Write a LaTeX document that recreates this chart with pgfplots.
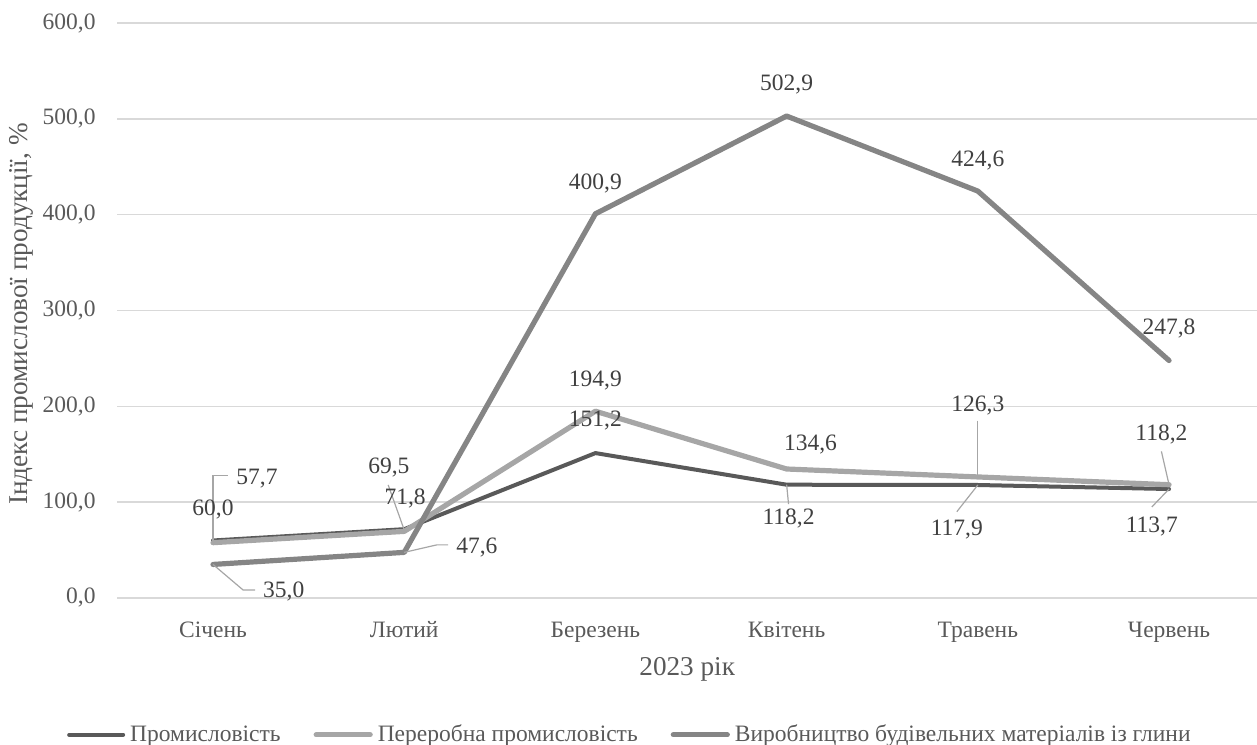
\documentclass[border=0pt]{standalone}
\usepackage{pgfplots}
\pgfplotsset{compat=1.18}
\usepackage{fontspec}
\setmainfont{Liberation Serif}
\definecolor{cInd}{HTML}{595959}
\definecolor{cMan}{HTML}{A6A6A6}
\definecolor{cClay}{HTML}{858585}
\definecolor{cGrid}{HTML}{D9D9D9}
\definecolor{cTxt}{HTML}{404040}
\definecolor{cTick}{HTML}{595959}
\definecolor{cLead}{HTML}{A6A6A6}
\begin{document}
\begin{tikzpicture}[font=\fontsize{11.75}{14}\selectfont,
  lbl/.style={text=cTxt, inner sep=0pt, anchor=center},
  lead/.style={draw=cLead, line width=0.6pt}]
\begin{axis}[
  scale only axis,
  width=569.8pt, height=287.5pt,
  xmin=-0.5, xmax=5.46, ymin=0, ymax=600,
  ytick={0,100,200,300,400,500,600},
  xtick={0,1,2,3,4,5},
  xticklabels={Січень,Лютий,Березень,Квітень,Травень,Червень},
  ymajorgrids,
  grid style={cGrid, line width=0.75pt},
  axis line style={draw=none},
  major tick length=0pt,
  clip=false,
  /pgf/number format/assume math mode=true,
  yticklabel style={/pgf/number format/.cd, fixed, fixed zerofill, precision=1, use comma, /tikz/.cd,
    text=cTick, anchor=east, inner sep=0pt, xshift=-10.7pt},
  xticklabel style={text=cTick, anchor=base, inner sep=0pt, yshift=-20pt},
  legend columns=3,
  legend style={draw=none, fill=none, at={(axis description cs:0.451,-0.238)}, anchor=center,
    text=cTick, font=\fontsize{11.75}{14}\selectfont,
    nodes={inner sep=2.5pt},
    /tikz/every even column/.append style={column sep=14pt}},
  legend image code/.code={\draw[#1, line cap=round] (0pt,0pt) -- (27pt,0pt);},
]
\addplot[cInd, line width=2pt, line cap=round, line join=round] coordinates {(0,60.0)(1,71.8)(2,151.2)(3,118.2)(4,117.9)(5,113.7)};
\addlegendentry{Промисловість}
\addplot[cMan, line width=2.6pt, line cap=round, line join=round] coordinates {(0,57.7)(1,69.5)(2,194.9)(3,134.6)(4,126.3)(5,118.2)};
\addlegendentry{Переробна промисловість}
\addplot[cClay, line width=2.6pt, line cap=round, line join=round] coordinates {(0,35.0)(1,47.6)(2,400.9)(3,502.9)(4,424.6)(5,247.8)};
\addlegendentry{Виробництво будівельних матеріалів із глини}

% leader lines
\draw[lead] (axis cs:0,57.7) -- (axis cs:0,128) -- (axis cs:0.079,128);
\draw[lead] (axis cs:0.916,118) -- (axis cs:1,71);
\draw[lead] (axis cs:1,47.6) -- (axis cs:1.17,55.4) -- (axis cs:1.23,55.4);
\draw[lead] (axis cs:0,35) -- (axis cs:0.157,8.4) -- (axis cs:0.22,8.4);
\draw[lead] (axis cs:3,118.2) -- (axis cs:3.01,98);
\draw[lead] (axis cs:4,185) -- (axis cs:4,126.3);
\draw[lead] (axis cs:3.89,90) -- (axis cs:4,117.9);
\draw[lead] (axis cs:4.96,153) -- (axis cs:5,118.2);
\draw[lead] (axis cs:4.91,95) -- (axis cs:5,113.7);

% data labels
\node[lbl] at (axis cs:0,92) {60,0};
\node[lbl] at (axis cs:0.23,125) {57,7};
\node[lbl] at (axis cs:0.92,136) {69,5};
\node[lbl] at (axis cs:1.005,104) {71,8};
\node[lbl] at (axis cs:1.38,53) {47,6};
\node[lbl] at (axis cs:0.37,7) {35,0};
\node[lbl] at (axis cs:2,433) {400,9};
\node[lbl] at (axis cs:2,227) {194,9};
\node[lbl] at (axis cs:2,185) {151,2};
\node[lbl] at (axis cs:3,536) {502,9};
\node[lbl] at (axis cs:4,457) {424,6};
\node[lbl] at (axis cs:5,281) {247,8};
\node[lbl] at (axis cs:3.125,160) {134,6};
\node[lbl] at (axis cs:3.01,83) {118,2};
\node[lbl] at (axis cs:4,201) {126,3};
\node[lbl] at (axis cs:3.89,71) {117,9};
\node[lbl] at (axis cs:4.96,171) {118,2};
\node[lbl] at (axis cs:4.91,75) {113,7};

% axis titles
\node[text=cTick, anchor=base, font=\fontsize{13.6}{16}\selectfont] at (axis description cs:0.5,-0.134) {2023 рік};
\node[text=cTick, rotate=90, anchor=center, font=\fontsize{13.6}{16}\selectfont] at (axis description cs:-0.0846,0.494) {Індекс промислової продукції, \%};

\coordinate (BL) at (axis description cs:-0.10302,-0.25565);
\coordinate (TR) at (axis description cs:1,1.04);
\end{axis}
\pgfresetboundingbox
\path[use as bounding box] (BL) rectangle (TR);
\end{tikzpicture}
\end{document}
